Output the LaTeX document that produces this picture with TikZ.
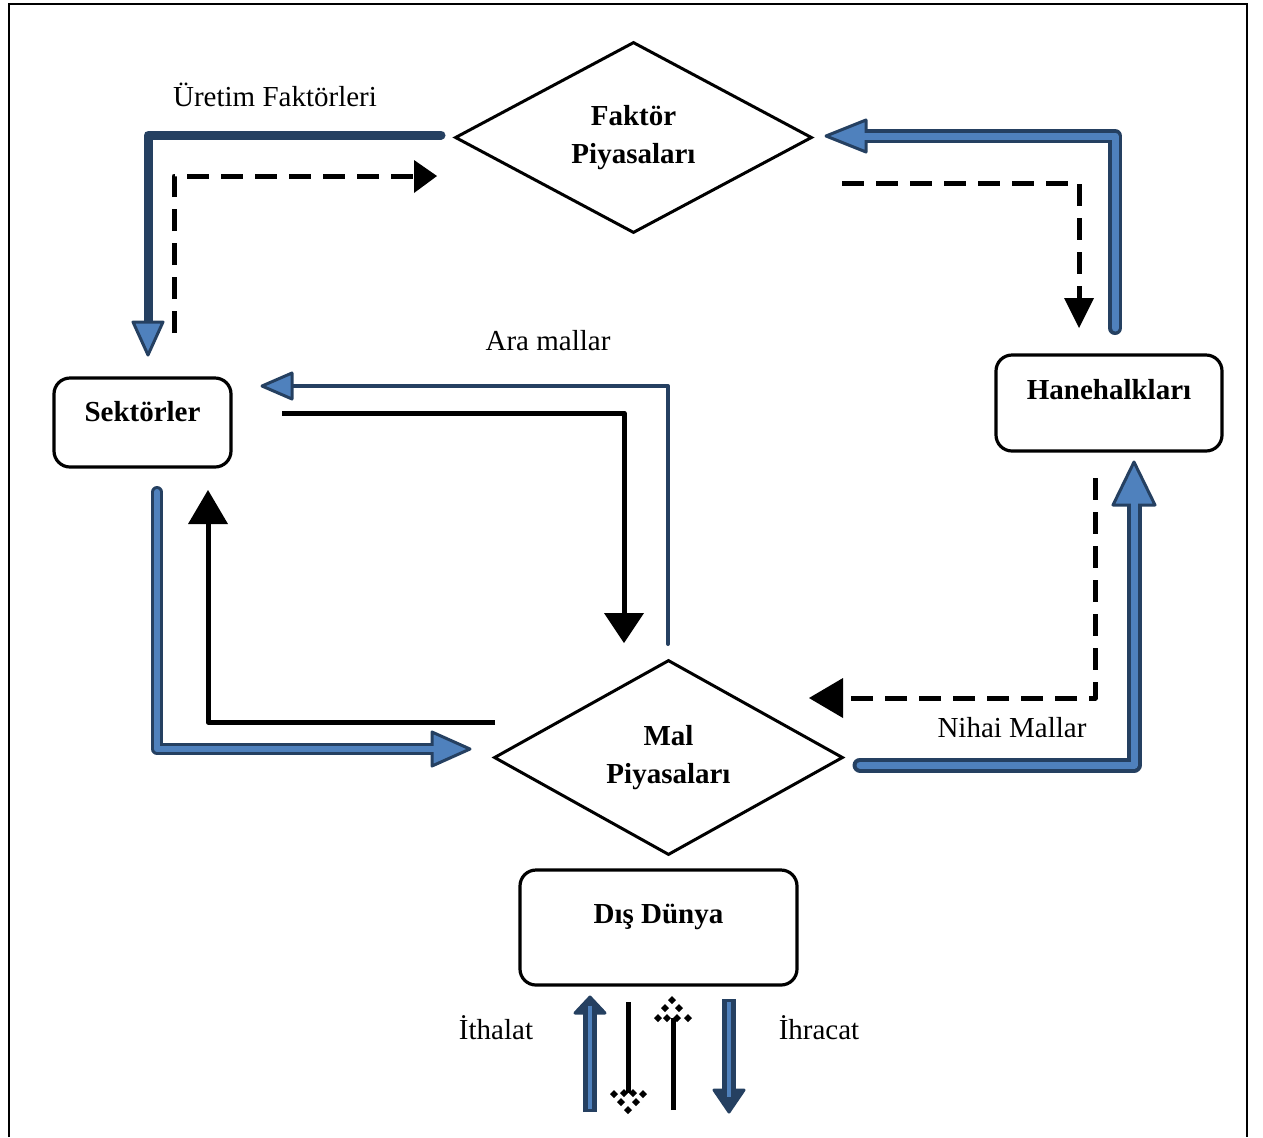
\documentclass[tikz,border=0pt]{standalone}
\usepackage{fontspec}
\setmainfont{Liberation Serif}
\usetikzlibrary{shapes.geometric}
\definecolor{bdark}{HTML}{254061}
\definecolor{blight}{HTML}{4F81BD}
\begin{document}
\begin{tikzpicture}[x=0.5pt,y=-0.5pt,
  txt/.style={font=\fontsize{14.5}{19}\selectfont, inner sep=0pt, align=center},
  rbox/.style={draw, line width=1.6pt, rounded corners=8pt, inner sep=0pt, align=center,
     font=\fontsize{14.5}{19}\selectfont\bfseries},
  diam/.style={draw, line width=1.5pt, diamond, inner sep=0pt, align=center,
     font=\fontsize{14.5}{19}\selectfont\bfseries},
  dsh/.style={line width=2.5pt, dash pattern=on 11pt off 6pt, line join=round},
  sol/.style={line width=2.5pt, line join=round},
  bouter/.style={draw=bdark, line join=round, line cap=round},
  binner/.style={draw=blight, line join=round, line cap=round},
  bhead/.style={draw=bdark, fill=blight, line width=1.5pt, line join=round},
  khead/.style={fill=black}]
\useasboundingbox (0,0) rectangle (1263,1137);
% frame
\draw[line width=1.1pt] (9,1137) -- (9,4) -- (1247,4) -- (1247,1137);

% nodes
\node[diam, minimum width=178.5pt, minimum height=95.5pt] (fp) at (633.5,137.5) {Faktör\\Piyasaları};
\node[diam, minimum width=174.5pt, minimum height=97.5pt] (mp) at (668.5,757.5) {Mal\\Piyasaları};
\node[rbox, minimum width=88.5pt, minimum height=44.5pt] (sek) at (142.5,422.5) {\raisebox{11pt}{Sektörler}};
\node[rbox, minimum width=113pt, minimum height=48pt] (hh) at (1109,403) {\raisebox{13.5pt}{Hanehalkları}};
\node[rbox, minimum width=138.5pt, minimum height=57.5pt] (dd) at (658.5,927.5) {\raisebox{13.5pt}{Dış Dünya}};

% labels
\node[txt] (lU) at (275,95) {Üretim Faktörleri};
\node[txt] (lA) at (548,341) {Ara mallar};
\node[txt] (lN) at (1012,728) {Nihai Mallar};
\node[txt] (lI) at (496,1028) {İthalat};
\node[txt] (lE) at (819,1028) {İhracat};

% coordinates
\coordinate (uA) at (441,135);  \coordinate (uB) at (148,322);
\coordinate (rA) at (1115,328); \coordinate (rB) at (866,136);
\coordinate (aA) at (668,644);  \coordinate (aB) at (292,386);
\coordinate (sA) at (157,492);  \coordinate (sB) at (432,749);
\coordinate (nA) at (860,765);  \coordinate (nB) at (1134,505);
\coordinate (iA) at (590,1112); \coordinate (iB) at (590,1013);
\coordinate (eA) at (729,999);  \coordinate (eB) at (729,1090);
\coordinate (kA) at (174,333);  \coordinate (kB) at (416,176);
\coordinate (kC) at (842,183);  \coordinate (kD) at (1079,300);
\coordinate (kE) at (282,413);  \coordinate (kF) at (624,615);
\coordinate (kG) at (495,722);  \coordinate (kH) at (208,524);
\coordinate (kI) at (1095,478); \coordinate (kJ) at (843,698);
\coordinate (kK) at (628,1002); \coordinate (kL) at (628,1093);
\coordinate (kM) at (673,1110); \coordinate (kN) at (673,1018);

% blue arrow: Uretim Faktorleri (solid dark)
\draw[bouter, line width=4.5pt] (uA) -| (uB);
\draw[bhead] (148,355) -- (133,322) -- (163,322) -- cycle;

% blue arrow: Hanehalklari -> Faktor Piyasalari
\draw[bouter, line width=7pt] (rA) |- (rB);
\draw[bhead] (826,136) -- (866,120) -- (866,152) -- cycle;
\draw[binner, line width=3.5pt] (rA) |- (860,136);

% blue arrow: Ara mallar (thin)
\draw[bouter, line width=2pt] (aA) |- (aB);
\draw[bhead] (262,386) -- (292,373) -- (292,399) -- cycle;

% blue arrow: Sektorler -> Mal Piyasalari
\draw[bouter, line width=6pt] (sA) |- (sB);
\draw[bhead] (470,749) -- (432,732) -- (432,766) -- cycle;
\draw[binner, line width=3pt] (sA) |- (437,749);

% blue arrow: Nihai Mallar
\draw[bouter, line width=7.5pt] (nA) -| (nB);
\draw[bhead] (1134,462) -- (1113,505) -- (1155,505) -- cycle;
\draw[binner, line width=3.5pt] (nA) -| (1134,499);

% bottom blue arrows
\draw[bouter, line width=7pt, line cap=butt] (iA) -- (iB);
\draw[bhead, fill=bdark] (590,997) -- (575,1013) -- (605,1013) -- cycle;
\draw[binner, line width=2pt, line cap=butt] (590,1109) -- (590,1006);
\draw[bouter, line width=7pt, line cap=butt] (eA) -- (eB);
\draw[bhead, fill=bdark] (729,1112) -- (714,1090) -- (744,1090) -- cycle;
\draw[binner, line width=2pt, line cap=butt] (729,1002) -- (729,1097);

% black arrows
\draw[dsh] (kA) |- (kB);
\fill[khead] (437,176) -- (414,160) -- (414,193) -- cycle;
\draw[dsh] (kC) -| (kD);
\fill[khead] (1079,328) -- (1064,298) -- (1094,298) -- cycle;
\draw[sol] (kE) -| (kF);
\fill[khead] (624,643) -- (604,613) -- (644,613) -- cycle;
\draw[sol] (kG) -| (kH);
\fill[khead] (208,490) -- (188,524) -- (228,524) -- cycle;
\draw[dsh] (kI) |- (kJ);
\fill[khead] (809,698) -- (843,678) -- (843,718) -- cycle;

% bottom black arrows with dotted heads
\draw[sol] (kK) -- (kL);
\foreach \p in {(614,1094),(624,1093),(633,1093),(643,1094),(621,1102),(636,1102),(628,1110)}
  \fill \p +(0,-4) -- +(4,0) -- +(0,4) -- +(-4,0) -- cycle;
\draw[sol] (kM) -- (kN);
\foreach \p in {(672,1000),(665,1008),(679,1008),(658,1018),(667,1018),(677,1018),(688,1018)}
  \fill \p +(0,-4) -- +(4,0) -- +(0,4) -- +(-4,0) -- cycle;
\end{tikzpicture}
\end{document}
